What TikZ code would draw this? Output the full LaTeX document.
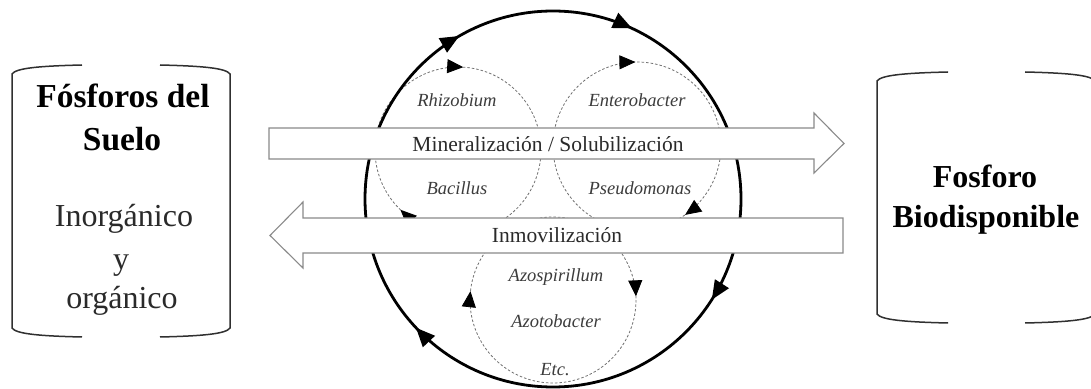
\documentclass[tikz,border=0pt]{standalone}
\usepackage{fontspec}
\setmainfont{Liberation Serif}
\usetikzlibrary{arrows.meta,decorations.markings,calc}
\definecolor{dashgray}{HTML}{707070}
\definecolor{arrowgray}{HTML}{8A8A8A}
\definecolor{textgray}{HTML}{2A2A2A}
\definecolor{itgray}{HTML}{3C3C3C}
\definecolor{brkgray}{HTML}{303030}
\begin{document}
\begin{tikzpicture}[x=1pt,y=1pt,
  bigc/.style={line width=2.8pt,black},
  dcirc/.style={dashgray,line width=0.8pt,dash pattern=on 2.5pt off 2pt},
  widearrow/.style={draw=arrowgray,fill=white,line width=1.1pt,line join=miter},
  bracket/.style={draw=brkgray,line width=1.5pt},
  bigtxt/.style={anchor=base,text=black,font=\fontsize{32}{38}\selectfont},
  boldtxt/.style={anchor=base,text=black,font=\fontsize{33.5}{40}\selectfont\bfseries},
  midtxt/.style={anchor=base,text=textgray,font=\fontsize{21.5}{26}\selectfont},
  ittxt/.style={anchor=base,text=itgray,font=\fontsize{18.5}{22}\selectfont\itshape},
  tipmarks/.style={decoration={markings,#1},postaction={decorate}},
  smalltip/.style={solid,black},
]
\clip (0,0) rectangle (1091,388);
\fill[white] (0,0) rectangle (1091,388);

% centres
\coordinate (cbig) at (553,189);
\coordinate (cul) at (458,238);
\coordinate (cur) at (637,242);
\coordinate (clo) at (553,88);

% dashed circles (clockwise)
\draw[dcirc,tipmarks={mark=at position 0.372 with {\arrow[smalltip]{Triangle[length=16pt,width=14pt]}},
                      mark=at position 0.76 with {\arrow[smalltip]{Triangle[length=16pt,width=14pt]}}}]
  ($(cul)+(83,0)$) arc[start angle=0,end angle=-360,radius=83];
\draw[dcirc,tipmarks={mark=at position 0.153 with {\arrow[smalltip]{Triangle[length=16pt,width=14pt]}},
                      mark=at position 0.747 with {\arrow[smalltip]{Triangle[length=16pt,width=14pt]}}}]
  ($(cur)+(84,0)$) arc[start angle=0,end angle=-360,radius=84];
\draw[dcirc,tipmarks={mark=at position 0.517 with {\arrow[smalltip]{Triangle[length=16pt,width=14pt]}},
                      mark=at position 0.993 with {\arrow[smalltip]{Triangle[length=16pt,width=14pt]}}}]
  ($(clo)+(83,0)$) arc[start angle=0,end angle=-360,radius=83];

% big circle (clockwise)
\draw[bigc,tipmarks={mark=at position 0.09 with {\arrow{Triangle[length=19pt,width=16pt]}},
                     mark=at position 0.38 with {\arrow{Triangle[length=19pt,width=16pt]}},
                     mark=at position 0.667 with {\arrow{Triangle[length=19pt,width=16pt]}},
                     mark=at position 0.819 with {\arrow{Triangle[length=19pt,width=16pt]}}}]
  ($(cbig)+(188,0)$) arc[start angle=0,end angle=-360,radius=188];

% wide arrows
\path[widearrow] (269,260) -- (814,260) -- (814,275) -- (844,244.5) -- (814,215) -- (814,229) -- (269,229) -- cycle;
\path[widearrow] (270,152.5) -- (303,186) -- (303,170) -- (843,170) -- (843,135) -- (303,135) -- (303,120) -- cycle;

\node[midtxt] (mineral) at (548,236) {Mineralización / Solubilización};
\node[midtxt] (inmov) at (557,145) {Inmovilización};

% italic labels
\node[ittxt] (rhizo) at (457,281) {Rhizobium};
\node[ittxt] (entero) at (637,281) {Enterobacter};
\node[ittxt] (bacil) at (457,193) {Bacillus};
\node[ittxt] (pseudo) at (640,193) {Pseudomonas};
\node[ittxt] (azosp) at (556,106) {Azospirillum};
\node[ittxt] (azoto) at (556,60) {Azotobacter};
\node[ittxt] (etc) at (555,13) {Etc.};

% left bracket
\draw[bracket] (82,323) .. controls (40,322) and (16,320) .. (12,314) -- (12,60) .. controls (16,54) and (40,52) .. (82,51);
\draw[bracket] (160,323) .. controls (202,322) and (226,320) .. (230,314) -- (230,60) .. controls (226,54) and (202,52) .. (160,51);
\node[boldtxt] (fos1) at (123,280) {Fósforos del};
\node[boldtxt] (fos2) at (122,237) {Suelo};
\node[bigtxt,text=textgray] (inorg) at (124,161) {Inorgánico};
\node[bigtxt,text=textgray] (yy) at (121,118) {y};
\node[bigtxt,text=textgray] (org) at (122,79) {orgánico};

% right bracket
\draw[bracket] (948,316) .. controls (906,315) and (881,313) .. (877,307) -- (877,74) .. controls (881,68) and (906,66) .. (948,65);
\draw[bracket] (1025,316) .. controls (1067,315) and (1091,313) .. (1095,307) -- (1095,74) .. controls (1091,68) and (1067,66) .. (1025,65);
\node[boldtxt,font=\fontsize{32}{38}\selectfont\bfseries] (fbio1) at (985,200) {Fosforo};
\node[boldtxt,font=\fontsize{32}{38}\selectfont\bfseries] (fbio2) at (986,160) {Biodisponible};
\end{tikzpicture}
\end{document}
